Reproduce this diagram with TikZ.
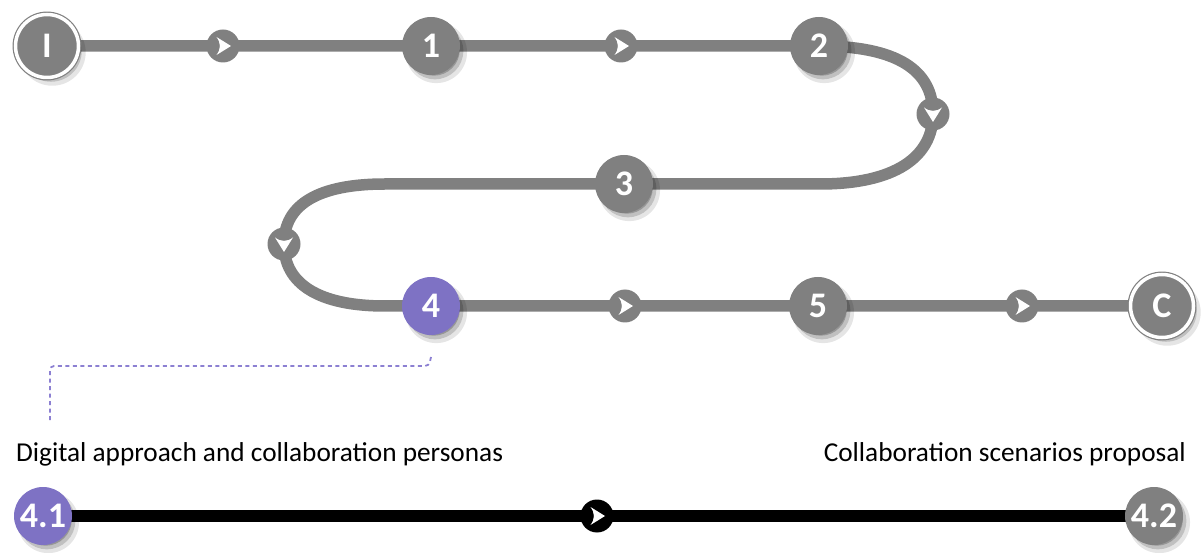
\documentclass[tikz,border=0pt]{standalone}
\usepackage{fontspec}
\setmainfont{Carlito}
\usetikzlibrary{shadows,backgrounds}
\definecolor{gr}{RGB}{128,128,128}
\definecolor{pu}{RGB}{126,114,196}
\definecolor{pul}{RGB}{140,128,210}
\tikzset{
  sh/.style={
    drop shadow={shadow xshift=5pt,shadow yshift=-6pt,opacity=0.10,shadow scale=1.06,fill=black},
    drop shadow={shadow xshift=4pt,shadow yshift=-5pt,opacity=0.16,shadow scale=0.98,fill=black},
    drop shadow={shadow xshift=3pt,shadow yshift=-4pt,opacity=0.22,shadow scale=0.90,fill=black}},
  stepnode/.style={circle,fill=gr,minimum size=58pt,inner sep=0pt,text=white,
    font=\bfseries\fontsize{36}{36}\selectfont,sh},
  endnode/.style={stepnode,draw=gr,double=white,double distance=3.5pt,line width=1.2pt,minimum size=63pt},
  mk/.style={circle,fill=gr,minimum size=33pt,inner sep=0pt},
  chev/.style={fill=white},
  track/.style={draw=gr,line width=11.5pt},
  blacktrack/.style={draw=black,line width=12pt},
  callout/.style={draw=pul,line width=1.8pt,dash pattern=on 4pt off 3.5pt,rounded corners=4pt},
  lbl/.style={font=\fontsize{27.3}{27.3}\selectfont,inner sep=0pt}
}
\begin{document}
\begin{tikzpicture}[x=1pt,y=-1pt]
\useasboundingbox (0,0) rectangle (1203,553);
% nodes
\node[endnode] (nI) at (47,46) {I};
\node[mk] (m1) at (223,46) {};
\node[stepnode] (n1) at (431,46) {1};
\node[mk] (m2) at (621,46) {};
\node[stepnode] (n2) at (819,46) {2};
\node[mk] (m3) at (933,114) {};
\node[stepnode] (n3) at (624,184) {3};
\node[mk] (m4) at (284,244) {};
\node[stepnode,fill=pu] (n4) at (431,306) {4};
\node[mk] (m5) at (625,306) {};
\node[stepnode] (n5) at (818,306) {5};
\node[mk] (m6) at (1022,306) {};
\node[endnode] (nC) at (1162,306) {C};
\node[lbl,anchor=base west] (t1) at (16,461) {Digital approach and collaboration personas};
\node[lbl,anchor=base east] (t2) at (1186,461) {Collaboration scenarios proposal};
\node[stepnode,fill=pu] (n41) at (43,516) {4.1};
\node[mk,fill=black] (m7) at (597,516) {};
\node[stepnode] (n42) at (1154,516) {4.2};
\coordinate (d0) at (431,357);
\coordinate (d1) at (50,366);
\coordinate (d2) at (50,422);
% chevrons inside the markers
\foreach \m/\a in {m1/0,m2/0,m3/-90,m4/-90,m5/0,m6/0,m7/0}
  \fill[chev,shift={(\m.center)},rotate=\a]
    (8pt,0pt) -- (-6.5pt,9pt) .. controls (-2pt,3pt) and (-2pt,-3pt) .. (-6.5pt,-9pt) -- cycle;
% connectors
\begin{pgfonlayer}{background}
\draw[track] (nI.center) -- (m1.center) -- (n1.center) -- (m2.center) -- (n2.center)
  .. controls (897,46) and (933,70) .. (m3.center)
  .. controls (933,157) and (895,184) .. (820,184) -- (n3.center)
  -- (385,184) .. controls (319,184) and (284,204) .. (m4.center)
  .. controls (284,284) and (319,306) .. (385,306) -- (n4.center)
  -- (m5.center) -- (n5.center) -- (m6.center) -- (nC.center);
\draw[blacktrack] (n41.center) -- (m7.center) -- (n42.center);
\end{pgfonlayer}
\draw[callout] (d0) -- (429,366) -- (d1) -- (d2);
\end{tikzpicture}
\end{document}
